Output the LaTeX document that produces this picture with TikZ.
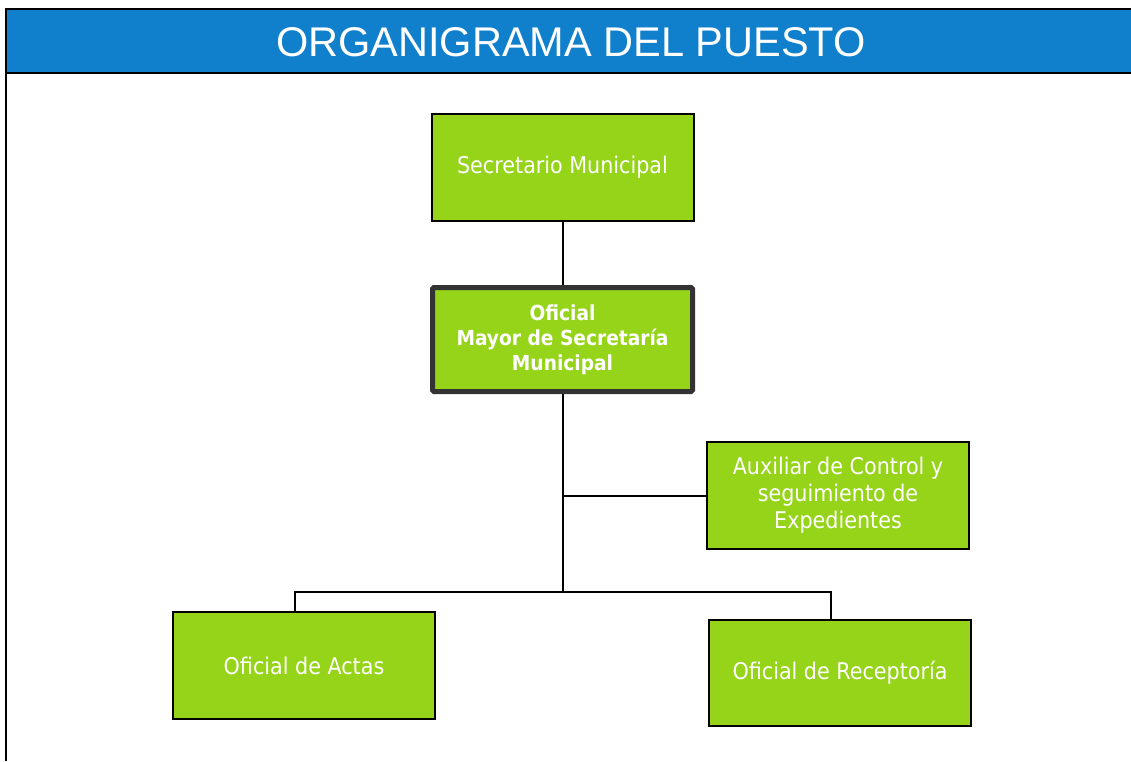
\documentclass[tikz,border=0pt]{standalone}
\usepackage{fontspec}
\setmainfont{DejaVu Sans Condensed}
\newfontfamily\titlefont{Liberation Sans}
\definecolor{orgblue}{RGB}{16,127,204}
\definecolor{orggreen}{RGB}{149,212,24}
\definecolor{orgedge}{RGB}{51,51,51}
\begin{document}
\begin{tikzpicture}[x=1pt,y=-1pt]
	\tikzstyle{pbox}=[rectangle,draw=black,fill=orggreen,text=white,minimum width=262pt,minimum height=107pt,inner sep=0pt,align=center,line width=2pt,font=\fontsize{23}{27}\selectfont]
	%\tikzstyle{pbox}=[rectangle,draw=black,fill=orggreen,minimum width=262pt,minimum height=107pt]
	\tikzstyle{keybox}=[pbox,draw=orgedge,line width=5pt,rounded corners=1.5pt,minimum width=260pt,minimum height=104pt,font=\bfseries\fontsize{20.7}{25}\selectfont]
	\tikzstyle{link}=[line width=2pt]
	\useasboundingbox (0,0) rectangle (1131,761);
	% header and frame
	\fill[orgblue] (6,9) rectangle (1131,73);
	\draw[line width=2pt] (1131,8.5) -- (6,8.5) -- (6,761);
	\draw[line width=2pt] (6,73) -- (1131,73);
	\node[text=white,font=\titlefont\fontsize{41.5}{45}\selectfont] (P-title) at (571,42) {ORGANIGRAMA DEL PUESTO};
	% puestos
	\node[pbox] (P-secretario) at (562.5,167.5) {Secretario Municipal};
	\node[keybox] (P-oficial) at (562.5,339.5) {Oficial\\Mayor de Secretaría\\Municipal};
	\node[pbox] (P-auxiliar) at (838,495.5) {Auxiliar de Control y\\seguimiento de\\Expedientes};
	\node[pbox] (P-actas) at (304,665.5) {Oficial de Actas};
	\node[pbox,minimum height=106pt] (P-receptoria) at (840,673) {Oficial de Receptoría};
	\coordinate (P-split) at (562.5,592);
	% lineas
	\draw[link] (P-secretario) -- (P-oficial);
	\draw[link] (P-oficial) -- (P-split);
	\draw[link] (P-auxiliar.west) -- (P-auxiliar.west -| P-oficial.south);
	\draw[link] (P-split) -| ([xshift=-9pt]P-actas.north);
	\draw[link] (P-split) -| ([xshift=-9pt]P-receptoria.north);
\end{tikzpicture}
\end{document}
